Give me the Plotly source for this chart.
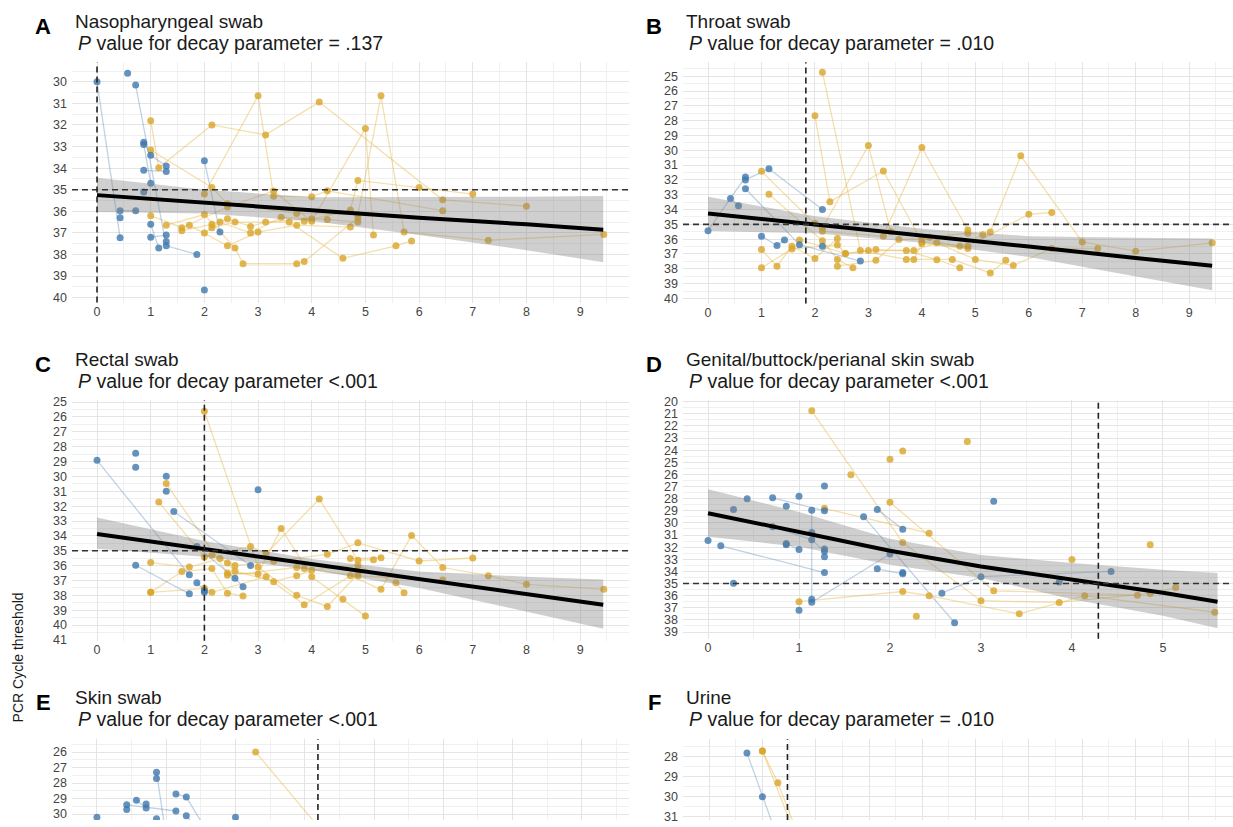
import plotly.graph_objects as go

W, H = 1233, 827

# ---------------- text ----------------
panel_letters = ["A", "B", "C", "D", "E", "F"]
panel_titles = ["Nasopharyngeal swab", "Throat swab", "Rectal swab",
                "Genital/buttock/perianal skin swab", "Skin swab", "Urine"]
p_texts = ["= .137", "= .010", "<.001", "<.001", "<.001", "= .010"]
y_title = "PCR Cycle threshold"

# ---------------- reference lines ----------------
ct_threshold = 35
cross_week = [0.0, 1.83, 2.0, 4.29, 3.19, 1.47]

# ---------------- data: each subject = (weeks, Ct values) ----------------
A_blue = [
    ([0.0, 0.43], [30.0, 37.23]),
    ([0.57], [29.6]),
    ([0.72, 1.29, 1.86], [30.15, 37.6, 38.0]),
    ([0.43, 0.72], [35.97, 35.97]),
    ([0.43], [36.3]),
    ([0.87, 1.0, 1.29], [32.8, 33.4, 33.9]),
    ([0.87, 1.0], [32.9, 34.7]),
    ([0.87, 1.29], [34.1, 34.15]),
    ([0.87], [35.1]),
    ([1.0, 1.15], [36.6, 37.7]),
    ([1.0, 1.29], [37.2, 37.1]),
    ([1.29], [37.4]),
    ([2.0, 2.29], [33.66, 36.96]),
    ([2.0], [39.65]),
]
A_gold = [
    ([1.0, 1.15, 2.14, 3.14, 4.14, 6.44, 8.0], [31.8, 33.98, 32.0, 32.46, 30.94, 35.47, 35.76]),
    ([2.0, 3.0, 3.29, 4.0, 4.29, 6.44], [35.2, 30.65, 35.3, 35.32, 35.05, 35.97]),
    ([1.0, 2.14, 2.43, 3.72, 4.86, 5.29, 5.72, 7.29, 9.44], [33.16, 34.9, 35.65, 36.1, 36.15, 30.65, 36.96, 37.34, 37.07]),
    ([1.0, 1.58, 2.43, 3.29, 4.0, 5.0, 5.15], [36.2, 36.76, 35.8, 35.06, 36.46, 32.16, 37.1]),
    ([1.29, 2.0, 2.57, 2.72, 3.72, 3.86, 4.86], [36.64, 36.15, 37.7, 38.43, 38.43, 38.33, 36.3]),
    ([1.58, 2.14, 2.43, 2.86, 3.14, 4.0], [36.9, 36.6, 36.35, 36.7, 36.5, 36.35]),
    ([1.72, 2.43, 3.0, 3.72, 4.72], [36.64, 37.6, 36.96, 36.64, 36.73]),
    ([2.0, 2.29, 2.86, 3.43, 4.29, 4.86], [37.0, 36.5, 37.0, 36.28, 36.38, 36.5]),
    ([2.14, 2.57, 3.58, 4.58, 5.57, 5.86], [36.76, 36.5, 36.5, 38.18, 37.6, 37.37]),
    ([3.86, 4.72, 4.86, 6.0, 7.0], [36.46, 35.94, 34.57, 34.9, 35.2]),
]
A_fit_x = [0, 2, 4, 6, 8, 9.43]
A_fit = [35.25, 35.6, 35.95, 36.3, 36.6, 36.85]
A_fit_lo = [34.45, 35.0, 35.35, 35.35, 35.32, 35.29]
A_fit_hi = [36.03, 36.1, 36.45, 37.1, 37.8, 38.36]

B_blue = [
    ([0.0, 0.70], [35.43, 31.8]),
    ([0.42, 0.57], [33.25, 33.74]),
    ([0.70, 1.14, 2.14], [32.0, 31.24, 34.0]),
    ([0.70, 1.71, 2.85], [32.6, 36.37, 37.48]),
    ([1.0, 1.29, 1.43], [35.8, 36.43, 36.05]),
    ([2.14], [36.48]),
]
B_gold = [
    ([1.0, 2.0, 2.14, 3.28, 4.0, 4.86], [31.42, 34.92, 35.47, 35.8, 29.81, 35.38]),
    ([1.14, 2.14, 2.42, 2.71], [32.96, 36.1, 37.37, 37.93]),
    ([2.14, 2.85, 3.71, 4.57, 5.28, 5.57], [24.73, 36.77, 37.37, 37.37, 38.28, 37.43]),
    ([2.14, 3.0, 3.42, 4.14, 4.86, 5.28, 5.85, 7.0, 8.0, 9.43], [35.25, 29.68, 35.5, 35.87, 35.6, 35.52, 30.37, 36.19, 36.81, 36.25]),
    ([2.0, 2.28, 3.28, 4.0, 4.86, 6.0, 6.43], [27.67, 33.47, 31.4, 36.19, 36.48, 34.32, 34.2]),
    ([1.0, 1.29, 1.57, 2.0, 2.42], [36.7, 37.82, 36.48, 37.3, 35.96]),
    ([1.0, 1.57, 2.42, 2.57, 3.0, 3.71, 4.28, 4.71], [37.93, 36.66, 36.39, 36.97, 36.77, 36.77, 37.39, 37.93]),
    ([1.71, 2.57, 3.14, 3.85, 4.28, 5.0, 5.71, 6.43, 7.29], [36.05, 36.97, 36.7, 36.77, 36.25, 37.37, 37.77, 36.63, 36.63]),
    ([2.42, 3.14, 3.57, 4.0, 4.71, 5.14], [37.82, 37.43, 36.03, 35.96, 36.48, 35.7]),
    ([3.85, 4.0, 4.86], [37.37, 36.3, 36.63]),
]
B_fit_x = [0, 2, 4, 6, 8, 9.43]
B_fit = [34.27, 35.0, 35.77, 36.5, 37.27, 37.8]
B_fit_lo = [33.13, 34.45, 35.3, 35.8, 35.9, 35.96]
B_fit_hi = [35.45, 35.6, 36.25, 37.2, 38.5, 39.45]

C_blue = [
    ([0.0, 1.72], [28.92, 36.62]),
    ([0.72], [28.44]),
    ([0.72], [29.39]),
    ([0.72, 1.72], [35.98, 37.9]),
    ([1.29], [29.99]),
    ([1.29], [31.0]),
    ([1.43, 2.86], [32.36, 36.0]),
    ([1.86, 2.57, 2.72], [34.71, 36.86, 37.42]),
    ([1.86, 2.0], [37.15, 37.68]),
    ([2.0], [37.8]),
    ([3.0], [30.9]),
]
C_gold = [
    ([2.0, 3.0, 3.72, 4.29, 4.86], [25.62, 36.1, 38.0, 38.75, 36.57]),
    ([1.15, 2.0, 2.14, 2.86, 3.15, 4.14, 4.86, 5.15], [31.72, 35.42, 35.3, 34.71, 35.2, 31.52, 35.64, 35.6]),
    ([1.29, 2.43, 3.0, 3.43, 4.0, 4.58, 5.0], [30.48, 36.5, 36.57, 33.5, 36.75, 38.26, 39.4]),
    ([1.0, 1.58, 2.14, 2.43, 2.72], [37.8, 36.4, 36.2, 37.86, 38.04]),
    ([1.0, 1.72, 2.29, 2.57, 3.29, 4.29, 4.86, 6.0, 7.0], [35.8, 36.1, 35.53, 36.0, 35.7, 35.24, 34.47, 35.69, 35.49]),
    ([1.0, 2.0, 2.14, 3.15, 3.86, 4.72, 5.29, 5.86, 6.44, 7.29, 8.0, 9.44],
     [37.8, 37.53, 37.8, 36.75, 38.64, 36.68, 37.6, 33.97, 36.13, 36.68, 37.26, 37.6]),
    ([2.43, 2.57, 3.29, 3.72, 4.0, 4.86, 5.57, 5.72], [35.82, 36.37, 37.08, 36.68, 36.3, 36.0, 37.15, 37.82]),
    ([2.43, 3.72, 3.86, 4.86, 6.44], [36.65, 36.13, 36.2, 36.7, 36.97]),
    ([4.72, 5.29], [35.53, 35.47]),
]
C_fit_x = [0, 2, 4, 6, 8, 9.43]
C_fit = [33.87, 34.88, 35.9, 36.92, 37.93, 38.64]
C_fit_lo = [32.76, 34.35, 35.55, 36.4, 36.75, 36.93]
C_fit_hi = [34.87, 35.4, 36.3, 37.5, 39.1, 40.25]

D_blue = [
    ([0.0], [31.45]),
    ([0.14, 1.28], [31.89, 34.1]),
    ([0.28], [28.9]),
    ([0.28], [34.98]),
    ([0.43], [28.0]),
    ([0.71, 1.28], [27.93, 29.0]),
    ([0.71, 1.14, 1.28], [30.31, 31.4, 32.35]),
    ([0.86], [28.63]),
    ([0.86, 1.0], [31.7, 32.2]),
    ([0.86], [31.8]),
    ([1.0], [27.8]),
    ([1.0], [37.2]),
    ([1.14, 1.14, 2.0], [28.96, 36.55, 32.57]),
    ([1.14], [36.3]),
    ([1.14], [30.8]),
    ([1.28], [26.95]),
    ([1.28], [32.8]),
    ([1.28], [32.16]),
    ([1.71, 2.71], [29.49, 38.24]),
    ([1.86, 2.14], [28.9, 30.53]),
    ([1.86, 2.14], [33.79, 34.2]),
    ([2.14], [34.1]),
    ([2.57, 3.0, 4.43], [35.8, 34.44, 34.0]),
    ([3.14], [28.22]),
    ([3.86], [34.87]),
]
D_gold = [
    ([1.14, 2.14, 3.0, 3.86, 4.86, 5.14], [20.76, 31.62, 36.42, 36.56, 35.82, 35.34]),
    ([1.28, 2.43], [28.8, 30.86]),
    ([1.57], [26.03]),
    ([2.0, 3.14, 4.72], [28.3, 35.6, 35.96]),
    ([2.0], [24.75]),
    ([2.14], [24.07]),
    ([2.85], [23.28]),
    ([1.0, 2.14, 2.43, 3.42, 4.14, 5.57], [36.5, 35.66, 36.0, 37.5, 36.0, 37.37]),
    ([2.29], [37.7]),
    ([4.0], [33.03]),
    ([4.86], [31.8]),
]
D_fit_x = [0, 1, 2, 3, 4, 5, 5.6]
D_fit = [29.2, 30.75, 32.3, 33.6, 34.67, 35.76, 36.5]
D_fit_lo = [27.22, 29.1, 31.3, 32.64, 33.3, 33.86, 34.13]
D_fit_hi = [31.15, 31.96, 33.45, 34.54, 36.3, 37.66, 38.69]

E_blue = [
    ([0.0], [30.2]),
    ([0.43, 1.14], [29.4, 29.8]),
    ([0.43], [29.7]),
    ([0.57, 0.71], [29.1, 29.6]),
    ([0.71], [29.35]),
    ([0.86, 1.0], [27.3, 31.5]),
    ([0.86], [27.7]),
    ([0.86, 1.0], [30.3, 32.0]),
    ([1.14, 1.29, 1.71], [28.7, 28.9, 32.0]),
    ([1.29, 1.57], [30.1, 31.6]),
    ([2.0, 2.29], [30.2, 32.5]),
]
E_gold = [
    ([2.29, 3.57], [26.0, 32.8]),
]
E_fit_x = [0, 7.3]
E_fit = [31.5, 37.0]
E_fit_lo = [30.6, 35.5]
E_fit_hi = [32.4, 38.5]

F_blue = [
    ([0.71, 1.0, 1.29], [27.8, 30.0, 32.1]),
]
F_gold = [
    ([1.0, 1.29, 1.71], [27.7, 29.3, 32.2]),
    ([1.0, 1.57], [27.7, 31.6]),
]
F_fit_x = [0, 9.4]
F_fit = [32.5, 37.0]
F_fit_lo = [31.6, 35.5]
F_fit_hi = [33.4, 38.5]

panels_data = [
    (A_blue, A_gold, A_fit_x, A_fit, A_fit_lo, A_fit_hi),
    (B_blue, B_gold, B_fit_x, B_fit, B_fit_lo, B_fit_hi),
    (C_blue, C_gold, C_fit_x, C_fit, C_fit_lo, C_fit_hi),
    (D_blue, D_gold, D_fit_x, D_fit, D_fit_lo, D_fit_hi),
    (E_blue, E_gold, E_fit_x, E_fit, E_fit_lo, E_fit_hi),
    (F_blue, F_gold, F_fit_x, F_fit, F_fit_lo, F_fit_hi),
]

# ---------------- geometry (pixels) and axis ranges ----------------
# (left, right, top, bottom) in px ; x range ; y range (reversed)
geom = [
    ((72, 629, 58, 302), [-0.466, 9.91], [40.23, 29.09]),
    ((683, 1233, 58, 303), [-0.468, 9.82], [40.35, 24.05]),
    ((72, 629, 401, 645), [-0.466, 9.91], [41.05, 24.87]),
    ((683, 1233, 401, 643), [-0.275, 5.77], [39.55, 19.88]),
    ((72, 629, 745, 827), [-0.36, 7.68], [30.38, 25.17]),
    ((683, 1233, 745, 827), [-0.49, 9.83], [31.17, 27.11]),
]

PT_BLUE = "rgba(62,120,172,0.8)"
PT_GOLD = "rgba(218,165,40,0.8)"
LN_BLUE = "rgba(90,140,190,0.38)"
LN_GOLD = "rgba(228,180,60,0.42)"
RIBBON = "rgba(128,128,128,0.38)"
GRID = "#e4e4e4"
MINOR = "#f0f0f0"
TICKC = "#444444"
FONT = "Liberation Sans, Arial, sans-serif"

fig = go.Figure()
layout = dict(
    width=W, height=H, margin=dict(l=0, r=0, t=0, b=0),
    paper_bgcolor="white", plot_bgcolor="white",
    showlegend=False, font=dict(family=FONT),
)
shapes = []
annotations = []

for i, (pdata, g) in enumerate(zip(panels_data, geom)):
    blue, gold, fx, fy, flo, fhi = pdata
    (l, r, t, b), xr, yr = g
    sfx = "" if i == 0 else str(i + 1)
    xa, ya = "x" + sfx, "y" + sfx
    bottom_row = i >= 4

    layout["xaxis" + sfx] = dict(
        domain=[l / W, r / W], range=xr, anchor=ya,
        tick0=0, dtick=1, showgrid=True, gridcolor=GRID, gridwidth=1.2,
        minor=dict(dtick=0.5, tick0=0, showgrid=True, gridcolor=MINOR, gridwidth=0.8),
        zeroline=False, showline=False, ticks="",
        showticklabels=not bottom_row,
        tickfont=dict(size=12.5, color=TICKC, family=FONT),
        fixedrange=True,
    )
    layout["yaxis" + sfx] = dict(
        domain=[1 - b / H, 1 - t / H], range=yr, anchor=xa,
        tick0=0, dtick=1, showgrid=True, gridcolor=GRID, gridwidth=1.2,
        minor=dict(dtick=0.5, tick0=0, showgrid=True, gridcolor=MINOR, gridwidth=0.8),
        zeroline=False, showline=False, ticks="",
        tickfont=dict(size=12.5, color=TICKC, family=FONT),
        ticklabelstandoff=4,
        fixedrange=True,
    )

    # subject trajectories
    for subjects, lc in ((gold, LN_GOLD), (blue, LN_BLUE)):
        for sx, sy in subjects:
            if len(sx) > 1:
                fig.add_trace(go.Scatter(x=sx, y=sy, mode="lines", xaxis=xa, yaxis=ya,
                                         line=dict(color=lc, width=1.3), hoverinfo="skip"))
    for subjects, pc in ((gold, PT_GOLD), (blue, PT_BLUE)):
        for sx, sy in subjects:
            fig.add_trace(go.Scatter(x=sx, y=sy, mode="markers", xaxis=xa, yaxis=ya,
                                     marker=dict(color=pc, size=7, line=dict(width=0)),
                                     hoverinfo="skip"))

    # fitted decay curve with confidence band
    fig.add_trace(go.Scatter(x=fx + fx[::-1], y=flo + fhi[::-1], mode="lines",
                             fill="toself", fillcolor=RIBBON, line=dict(width=0),
                             xaxis=xa, yaxis=ya, hoverinfo="skip"))
    fig.add_trace(go.Scatter(x=fx, y=fy, mode="lines", xaxis=xa, yaxis=ya,
                             line=dict(color="black", width=4), hoverinfo="skip"))

    # reference lines
    shapes.append(dict(type="line", xref=xa + " domain", yref=ya, x0=0, x1=1,
                       y0=ct_threshold, y1=ct_threshold, layer="above",
                       line=dict(color="#333333", width=1.6, dash="6px,4px")))
    shapes.append(dict(type="line", xref=xa, yref=ya + " domain", x0=cross_week[i], x1=cross_week[i],
                       y0=0, y1=1, layer="above",
                       line=dict(color="#222222", width=1.6, dash="6px,4px")))

    # panel titles
    is_left = (i % 2 == 0)
    row = i // 2
    base = row * 343
    letter_x = 43 if is_left else 654
    text_x = 73 if is_left else 684
    annotations.append(dict(text="<b>%s</b>" % panel_letters[i], x=letter_x / W, y=1 - (base + 22) / H,
                            xref="paper", yref="paper", xanchor="center", yanchor="middle",
                            showarrow=False, font=dict(size=22, color="black", family=FONT)))
    annotations.append(dict(text=panel_titles[i], x=text_x / W, y=1 - (base + 17) / H,
                            xref="paper", yref="paper", xanchor="left", yanchor="middle",
                            showarrow=False, font=dict(size=19, color="#1a1a1a", family=FONT)))
    annotations.append(dict(text="<i>P</i> value for decay parameter " + p_texts[i],
                            x=(text_x + 3) / W, y=1 - (base + 39) / H,
                            xref="paper", yref="paper", xanchor="left", yanchor="middle",
                            showarrow=False, font=dict(size=19.5, color="#1a1a1a", family=FONT)))

annotations.append(dict(text=y_title, x=18 / W, y=1 - 662 / H, xref="paper", yref="paper",
                        xanchor="center", yanchor="middle", textangle=-90, showarrow=False,
                        font=dict(size=14, color="#1a1a1a", family=FONT)))

layout["shapes"] = shapes
layout["annotations"] = annotations
fig.update_layout(**layout)
fig.write_html("out.html", config={"displayModeBar": False},
               post_script="document.body.style.margin='0';document.body.style.overflow='hidden';")
